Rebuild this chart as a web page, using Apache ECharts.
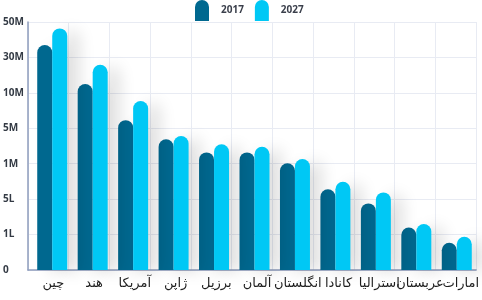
<!DOCTYPE html>
<html><head><meta charset="utf-8">
<script src="https://cdn.jsdelivr.net/npm/echarts@6/dist/echarts.min.js"></script>
<style>html,body{margin:0;padding:0;background:#fff}#c{width:482px;height:300px}</style>
</head><body><div id="c"></div>
<script>
const categories = ['چین','هند','آمریکا','ژاپن','برزیل','آلمان','انگلستان','کانادا','استرالیا','عربستان','امارات'];
// values expressed on the chart's stepped axis (0..7 = tick positions below)
const values2017 = [6.35,5.25,4.23,3.69,3.32,3.32,3.01,2.28,1.88,1.20,0.77];
const values2027 = [6.82,5.79,4.77,3.78,3.55,3.48,3.13,2.49,2.19,1.30,0.94];
const tickLabels = ['0','1L','5L','1M','5M','10M','30M','50M'];
const seriesNames = ['2017','2027'];

const chart = echarts.init(document.getElementById('c'), null, {renderer:'canvas'});
const icon = 'path://M0,7 A7,7 0 0 1 14,7 L14,21 L0,21 Z';
const font = '"DejaVu Sans", "Noto Sans", sans-serif';
chart.setOption({
  animation:false,
  legend:{top:0,left:195,padding:0,itemWidth:14,itemHeight:21,itemGap:11,icon:icon,
    data:seriesNames,
    textStyle:{fontSize:10,fontWeight:'bold',color:'#3a3f4b',fontFamily:'Open Sans, sans-serif',padding:[0,0,0,7]}},
  grid:[{left:27,right:5,top:22,bottom:30},{left:32,right:5,top:22,bottom:30}],
  xAxis:[
    {type:'category',gridIndex:0,data:categories,boundaryGap:true,
     axisLine:{show:true,lineStyle:{color:'#8e9dbd',width:1.5}},axisTick:{show:false},
     axisLabel:{interval:0,hideOverlap:false,margin:7,fontSize:13,color:'#1e1e1e',fontFamily:font,padding:[0,0,0,10]},
     splitLine:{show:true,lineStyle:{color:'#e8ebf3',width:1}}},
    {type:'category',gridIndex:1,data:categories,boundaryGap:true,
     axisLine:{show:false},axisTick:{show:false},splitLine:{show:false},axisLabel:{show:false}}
  ],
  yAxis:[
    {type:'value',gridIndex:0,min:0,max:7,interval:1,
     axisLine:{show:true,lineStyle:{color:'#8e9dbd',width:1.5}},axisTick:{show:false},
     splitLine:{show:true,lineStyle:{color:'#e8ebf3',width:1}},
     axisLabel:{align:'left',margin:25,fontSize:10,fontWeight:'bold',color:'#333a44',fontFamily:'Open Sans, sans-serif',
       formatter:(v)=>tickLabels[Math.round(v)]}},
    {type:'value',gridIndex:1,min:0,max:7,interval:1,show:false}
  ],
  series:[
    {name:seriesNames[0],type:'bar',xAxisIndex:1,yAxisIndex:1,data:values2017,barWidth:15,barGap:'0%',
     itemStyle:{color:'#00688f',borderRadius:[7.5,7.5,0,0],shadowColor:'rgba(0,0,0,0.13)',shadowBlur:16,shadowOffsetX:12,shadowOffsetY:2}},
    {name:seriesNames[1],type:'bar',xAxisIndex:1,yAxisIndex:1,data:values2027,barWidth:15,barGap:'0%',
     itemStyle:{color:'#00c8f5',borderRadius:[7.5,7.5,0,0],shadowColor:'rgba(0,0,0,0.13)',shadowBlur:16,shadowOffsetX:12,shadowOffsetY:2}}
  ]
});
</script></body></html>
